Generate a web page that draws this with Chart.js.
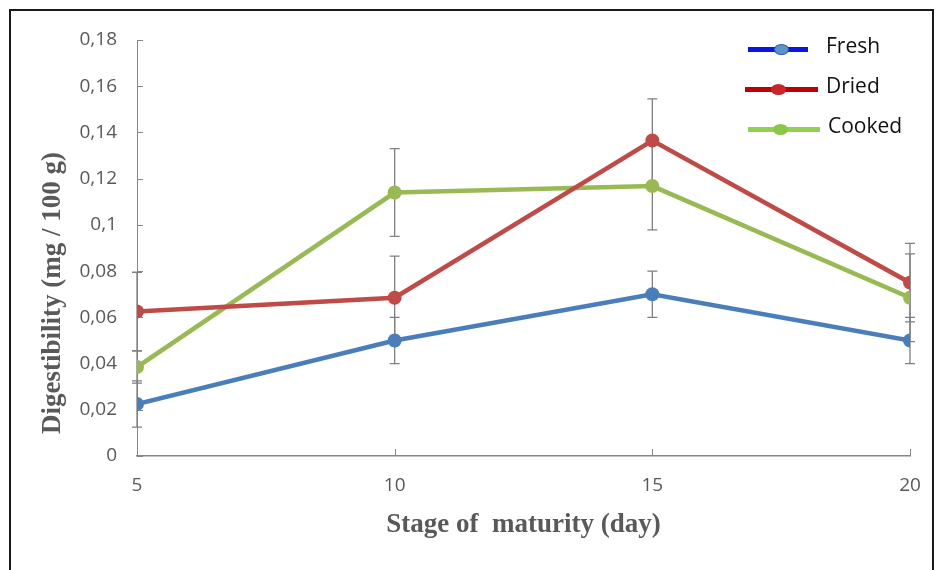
<!DOCTYPE html>
<html lang="en">
<head>
    <meta charset="UTF-8">
    <title>Digestibility vs stage of maturity</title>
    <script src="https://cdn.jsdelivr.net/npm/chart.js"></script>
    <style>
        body { margin: 0; background: #fff; }
        #wrap { position: relative; width: 937px; height: 570px; overflow: hidden; }
        #frame { position: absolute; left: 9px; top: 9px; width: 921px; height: 600px; border: 2px solid #1a1a1a; pointer-events: none; }
        #ytitle { position: absolute; left: 51px; top: 293px; transform: translate(-50%, -50%) rotate(-90deg);
                  font: bold 27px "Liberation Serif", serif; color: #595959; white-space: nowrap; }
        #legend { position: absolute; left: 740px; top: 31px; font-family: "Open Sans", sans-serif; font-size: 21px; color: #111; }
        .item { position: relative; height: 40px; }
        .line { position: absolute; height: 5px; }
        .dot { position: absolute; width: 15px; height: 11px; border-radius: 50%; }
        .txt { position: absolute; white-space: nowrap; line-height: 1; }
    </style>
</head>
<body>
<div id="wrap">
    <canvas id="lineChart" width="937" height="570"></canvas>
    <div id="ytitle">Digestibility (mg / 100 g)</div>
    <div id="frame"></div>
    <div id="legend"></div>
</div>

<script>
    // stage of maturity (days)
    const days = [5, 10, 15, 20];

    const fresh = [0.0225, 0.050, 0.070, 0.050];
    const dried = [0.0625, 0.0685, 0.1365, 0.075];
    const cooked = [0.0385, 0.114, 0.1168, 0.0685];

    // standard deviations
    const freshErr = [0.010, 0.010, 0.010, 0.010];
    const driedErr = [0.017, 0.018, 0.018, 0.017];
    const cookedErr = [0.007, 0.019, 0.019, 0.019];

    const yTicks = [0, 0.02, 0.04, 0.06, 0.08, 0.1, 0.12, 0.14, 0.16, 0.18];

    const series = [
        { label: 'Fresh', values: fresh, errors: freshErr, color: '#4a7ebb', legendLine: '#0a14e6', legendDot: '#5b93cf' },
        { label: 'Dried', values: dried, errors: driedErr, color: '#be4b48', legendLine: '#c00000', legendDot: '#c8262b' },
        { label: 'Cooked', values: cooked, errors: cookedErr, color: '#98b954', legendLine: '#92d050', legendDot: '#8cc747' }
    ];

    const gray = '#595959';

    // error bars and inner tick marks, placed with the chart's own scales
    const extras = {
        id: 'extras',
        beforeDatasetsDraw(chart) {
            const ctx = chart.ctx;
            const xs = chart.scales.x, ys = chart.scales.y;
            ctx.save();
            ctx.strokeStyle = '#808080';
            ctx.lineWidth = 1.3;
            series.forEach(s => {
                s.values.forEach((v, i) => {
                    const px = xs.getPixelForValue(days[i]);
                    const top = ys.getPixelForValue(v + s.errors[i]);
                    const bot = ys.getPixelForValue(v - s.errors[i]);
                    ctx.beginPath();
                    ctx.moveTo(px, top); ctx.lineTo(px, bot);
                    ctx.moveTo(px - 5, top); ctx.lineTo(px + 5, top);
                    ctx.moveTo(px - 5, bot); ctx.lineTo(px + 5, bot);
                    ctx.stroke();
                });
            });
            // tick marks pointing into the plot
            ctx.strokeStyle = '#868686';
            ctx.lineWidth = 1;
            const ax = chart.chartArea.left, ay = chart.chartArea.bottom;
            yTicks.forEach(t => {
                const py = Math.round(ys.getPixelForValue(t)) + 0.5;
                ctx.beginPath(); ctx.moveTo(ax, py); ctx.lineTo(ax + 6, py); ctx.stroke();
            });
            days.forEach(d => {
                const px = Math.round(xs.getPixelForValue(d)) + 0.5;
                ctx.beginPath(); ctx.moveTo(px, ay); ctx.lineTo(px, ay - 7); ctx.stroke();
            });
            ctx.restore();
        }
    };

    const ctx = document.getElementById('lineChart').getContext('2d');
    new Chart(ctx, {
        type: 'line',
        data: {
            datasets: series.map(s => ({
                label: s.label,
                data: s.values.map((v, i) => ({ x: days[i], y: v })),
                borderColor: s.color,
                backgroundColor: s.color,
                borderWidth: 4.5,
                pointRadius: 7,
                pointBorderWidth: 0,
                tension: 0,
                fill: false
            }))
        },
        options: {
            responsive: false,
            animation: false,
            layout: { padding: { left: 0, right: 27, top: 40, bottom: 0 } },
            plugins: { legend: { display: false }, tooltip: { enabled: false } },
            scales: {
                x: {
                    type: 'linear',
                    min: 5, max: 20,
                    afterBuildTicks: scale => { scale.ticks = days.map(d => ({ value: d })); },
                    grid: { display: false },
                    border: { display: true, color: '#868686', width: 1.5 },
                    ticks: { color: gray, padding: 10, font: { family: 'Open Sans', size: 19 } },
                    title: {
                        display: true,
                        text: 'Stage of  maturity (day)',
                        color: gray,
                        font: { family: 'Liberation Serif', size: 27, weight: 'bold' },
                        padding: { top: 0, bottom: 29 }
                    },
                    afterFit: scale => { scale.height = 114; }
                },
                y: {
                    min: 0, max: 0.18,
                    afterBuildTicks: scale => { scale.ticks = yTicks.map(t => ({ value: t })); },
                    grid: { display: false },
                    border: { display: true, color: '#868686', width: 1 },
                    ticks: {
                        color: gray,
                        padding: 12,
                        font: { family: 'Open Sans', size: 19 },
                        callback: v => String(Math.round(v * 100) / 100).replace('.', ',')
                    },
                    afterFit: scale => { scale.width = 137; }
                }
            }
        },
        plugins: [extras]
    });

    // legend in the top right corner
    const legendPos = [
        { lineL: 8, lineW: 60, dotL: 34, txtL: 86 },
        { lineL: 5, lineW: 73, dotL: 31, txtL: 86 },
        { lineL: 8, lineW: 72, dotL: 33, txtL: 88 }
    ];
    const legend = document.getElementById('legend');
    series.forEach((s, i) => {
        const p = legendPos[i];
        const item = document.createElement('div');
        item.className = 'item';
        item.innerHTML =
            `<div class="line" style="left:${p.lineL}px;top:16px;width:${p.lineW}px;background:${s.legendLine}"></div>` +
            `<div class="dot" style="left:${p.dotL}px;top:13px;background:${s.legendDot};${i === 0 ? 'border:1px solid #2d5f95;box-sizing:border-box;' : ''}"></div>` +
            `<div class="txt" style="left:${p.txtL}px;top:4px">${s.label}</div>`;
        legend.appendChild(item);
    });
</script>
</body>
</html>
